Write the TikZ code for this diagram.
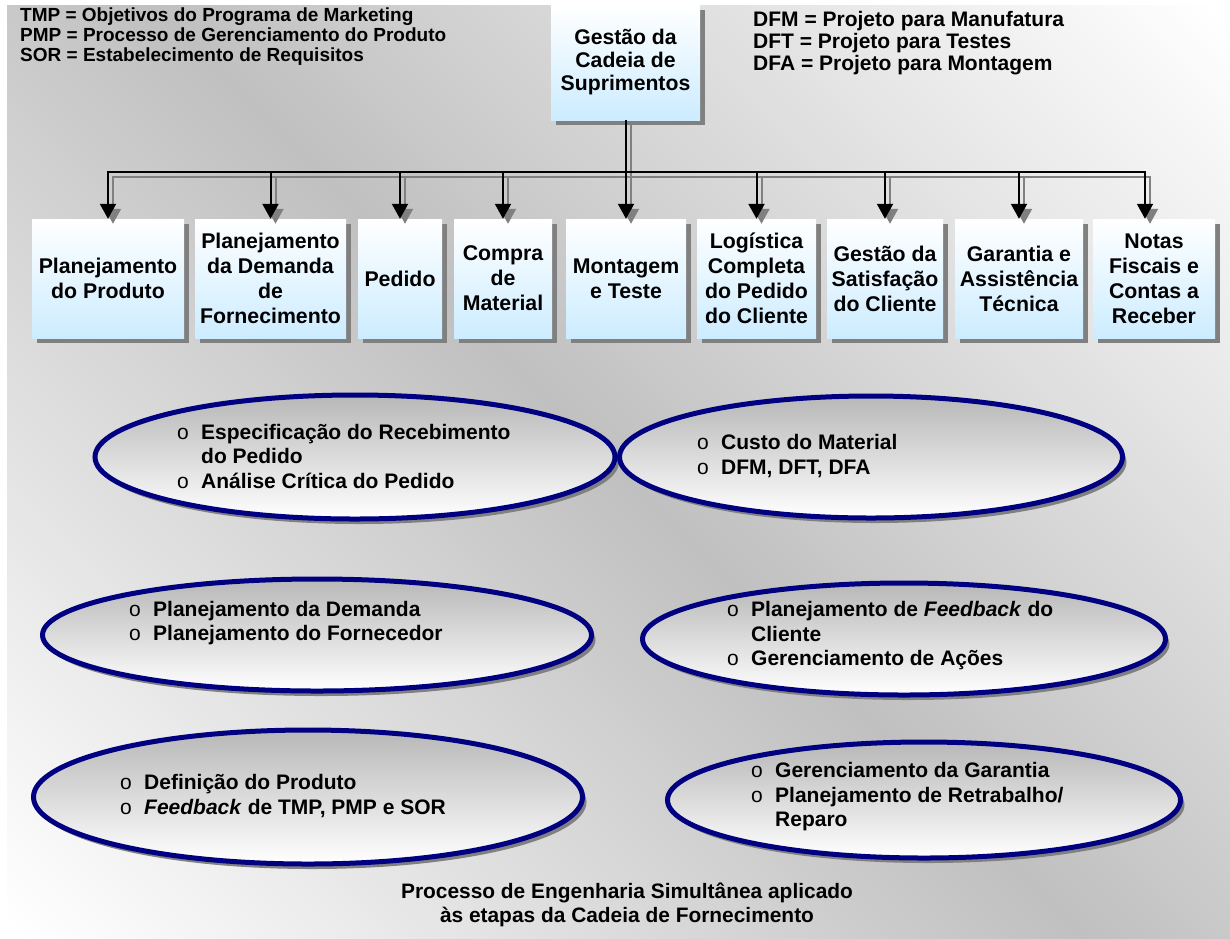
\documentclass[tikz,border=0pt]{standalone}
\usepackage{fontspec}
\setmainfont{Liberation Sans}
\usetikzlibrary{shadows,calc,arrows.meta,shapes.geometric}
\definecolor{bggray}{RGB}{192,192,192}
\definecolor{boxblue}{RGB}{204,236,255}
\definecolor{navyblue}{RGB}{0,0,128}
\definecolor{shadowgray}{RGB}{128,128,128}
\pgfdeclareverticalshading{bgshade}{100bp}{color(0bp)=(white); color(15bp)=(white); color(50bp)=(bggray); color(85bp)=(white); color(100bp)=(white)}
\newcommand{\bul}{\makebox[24pt][l]{\mdseries o}}
\newcommand{\ind}{\hspace*{24pt}}
\begin{document}
\begin{tikzpicture}[x=1pt,y=-1pt,
  box/.style={draw=none, top color=white, bottom color=boxblue, minimum height=119pt, inner sep=0pt, align=center,
    font=\fontsize{21.3}{25}\selectfont\bfseries,
    drop shadow={shadow xshift=5pt, shadow yshift=-5pt, fill=shadowgray, opacity=1}},
  conn/.style={draw=black, line width=2pt, -{Triangle[length=15pt,width=16pt]}},
  connsh/.style={draw=shadowgray, line width=2pt, -{Triangle[length=15pt,width=16pt]}, transform canvas={shift={(5,5)}}},
  ell/.style={ellipse, draw=navyblue, line width=5pt, top color=black!28, bottom color=white, inner sep=0pt,
    drop shadow={shadow xshift=4pt, shadow yshift=-5pt, fill=shadowgray, opacity=1}},
  etext/.style={anchor=west, align=left, inner sep=0pt, font=\fontsize{21}{24.5}\selectfont\bfseries},
  legend/.style={anchor=west, align=left, inner sep=0pt, font=\fontsize{19}{20}\selectfont\bfseries},
]
% background
\fill[white] (0,0) rectangle (1230,938);
\shade[shading=bgshade, shading angle=-45] (7,5) rectangle (1230,938);

% legends
\node[legend] (legL) at (20,37) {TMP = Objetivos do Programa de Marketing\\PMP = Processo de Gerenciamento do Produto\\SOR = Estabelecimento de Requisitos};
\node[legend, font=\fontsize{21}{22}\selectfont\bfseries] (legR) at (753,43) {DFM = Projeto para Manufatura\\DFT = Projeto para Testes\\DFA = Projeto para Montagem};

% top box
\node[box, minimum width=149pt, minimum height=115pt, font=\fontsize{21.2}{23}\selectfont\bfseries] (top) at (625.5,62.5) {Gestão da\\Cadeia de\\Suprimentos};

% row boxes
\node[box, minimum width=152pt] (b1) at (108,278.5) {Planejamento\\do Produto};
\node[box, minimum width=151pt] (b2) at (270.5,278.5) {Planejamento\\da Demanda\\de\\Fornecimento};
\node[box, minimum width=84pt] (b3) at (400,278.5) {Pedido};
\node[box, minimum width=98pt] (b4) at (503,278.5) {Compra\\de\\Material};
\node[box, minimum width=120pt] (b5) at (626,278.5) {Montagem\\e Teste};
\node[box, minimum width=119pt] (b6) at (756.5,278.5) {Logística\\Completa\\do Pedido\\do Cliente};
\node[box, minimum width=116pt] (b7) at (885,278.5) {Gestão da\\Satisfação\\do Cliente};
\node[box, minimum width=128pt] (b8) at (1019,278.5) {Garantia e\\Assistência\\Técnica};
\node[box, minimum width=122pt] (b9) at (1154,278.5) {Notas\\Fiscais e\\Contas a\\Receber};

% connectors
\coordinate (bus) at (0,172);
\foreach \b/\dx in {b1/0,b2/0,b3/0,b4/0,b5/0,b6/0,b7/0,b8/0,b9/-9}{
  \draw[connsh] (top.south) |- ($(\b.north |- bus)+(\dx,0)$) -- ($(\b.north)+(\dx,0)$);
}
\foreach \b/\dx in {b1/0,b2/0,b3/0,b4/0,b5/0,b6/0,b7/0,b8/0,b9/-9}{
  \draw[conn] (top.south) |- ($(\b.north |- bus)+(\dx,0)$) -- ($(\b.north)+(\dx,0)$);
}

% ellipses
\node[ell, minimum width=520pt, minimum height=124pt] (e1) at (355,457) {};
\node[ell, minimum width=503pt, minimum height=122pt] (e2) at (871,457) {};
\node[ell, minimum width=549pt, minimum height=112pt] (e3) at (317,635) {};
\node[ell, minimum width=523pt, minimum height=112pt] (e4) at (904,639) {};
\node[ell, minimum width=549pt, minimum height=134pt] (e5) at (308,797) {};
\node[ell, minimum width=513pt, minimum height=116pt] (e6) at (924,800) {};

\node[etext] (t1) at (177,456) {\bul Especificação do Recebimento\\\ind do Pedido\\\bul Análise Crítica do Pedido};
\node[etext] (t2) at (697,456) {\bul Custo do Material\\\bul DFM, DFT, DFA};
\node[etext] (t3) at (129,623) {\bul Planejamento da Demanda\\\bul Planejamento do Fornecedor};
\node[etext] (t4) at (727,636) {\bul Planejamento de \emph{Feedback} do\\\ind Cliente\\\bul Gerenciamento de Ações};
\node[etext] (t5) at (120,796) {\bul Definição do Produto\\\bul \emph{Feedback} de TMP, PMP e SOR};
\node[etext] (t6) at (751,797) {\bul Gerenciamento da Garantia\\\bul Planejamento de Retrabalho/\\\ind Reparo};

% caption
\node[align=center, inner sep=0pt, font=\fontsize{20.9}{24}\selectfont\bfseries] (cap) at (627,905) {Processo de Engenharia Simultânea aplicado\\às etapas da Cadeia de Fornecimento};
\end{tikzpicture}
\end{document}
